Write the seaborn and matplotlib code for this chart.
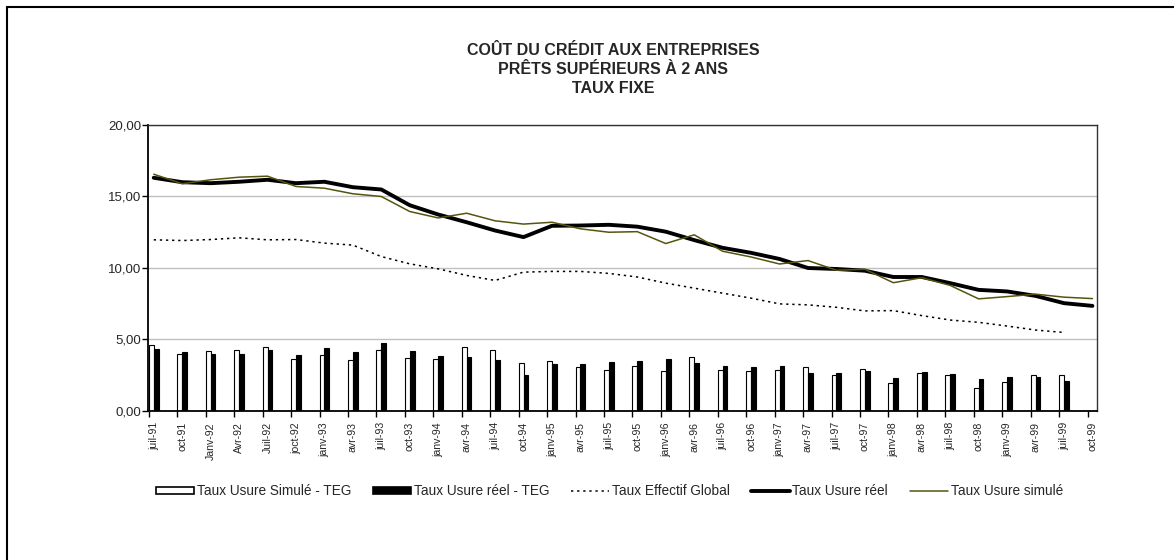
import numpy as np
import pandas as pd
import seaborn as sns
import matplotlib.pyplot as plt
from matplotlib.lines import Line2D
from matplotlib.patches import Patch, Rectangle
from matplotlib.ticker import FuncFormatter

# dates (quarterly)
dates = ["juil-91", "oct-91", "Janv-92", "Avr-92", "Juil-92", "joct-92", "janv-93", "avr-93",
         "juil-93", "oct-93", "janv-94", "avr-94", "juil-94", "oct-94", "janv-95", "avr-95",
         "juil-95", "oct-95", "janv-96", "avr-96", "juil-96", "oct-96", "janv-97", "avr-97",
         "juil-97", "oct-97", "janv-98", "avr-98", "juil-98", "oct-98", "janv-99", "avr-99",
         "juil-99", "oct-99"]

# bars: usure - TEG
ecart_simule = [4.58, 3.97, 4.16, 4.23, 4.49, 3.67, 3.90, 3.60, 4.25, 3.71, 3.64, 4.44,
                4.23, 3.39, 3.50, 3.06, 2.90, 3.18, 2.78, 3.76, 2.90, 2.80, 2.85, 3.11,
                2.50, 2.97, 1.96, 2.66, 2.50, 1.64, 2.03, 2.55, 2.50, np.nan]
ecart_reel = [4.32, 4.11, 4.00, 3.97, 4.25, 3.95, 4.37, 4.09, 4.77, 4.18, 3.83, 3.81,
              3.55, 2.50, 3.27, 3.27, 3.41, 3.53, 3.62, 3.39, 3.18, 3.11, 3.13, 2.64,
              2.64, 2.83, 2.34, 2.71, 2.57, 2.27, 2.36, 2.41, 2.10, np.nan]

# lines
teg = [11.97, 11.92, 11.99, 12.11, 11.97, 11.99, 11.74, 11.60, 10.80, 10.29, 9.94, 9.48,
       9.13, 9.71, 9.76, 9.76, 9.62, 9.37, 8.94, 8.59, 8.24, 7.89, 7.49, 7.42,
       7.25, 7.00, 7.02, 6.67, 6.36, 6.20, 5.94, 5.66, 5.49]
usure_reel = [16.31, 16.00, 15.93, 16.03, 16.17, 15.93, 16.03, 15.65, 15.49, 14.39, 13.74, 13.20,
              12.62, 12.16, 12.95, 12.97, 13.02, 12.89, 12.54, 11.95, 11.41, 11.06, 10.63, 10.00,
              9.93, 9.81, 9.37, 9.37, 8.94, 8.47, 8.36, 8.05, 7.54, 7.35]
usure_simule = [16.56, 15.89, 16.17, 16.35, 16.42, 15.70, 15.58, 15.19, 15.00, 13.95, 13.50, 13.83,
                13.30, 13.07, 13.20, 12.74, 12.50, 12.54, 11.71, 12.32, 11.17, 10.77, 10.28, 10.52,
                9.84, 9.91, 8.97, 9.32, 8.78, 7.84, 8.00, 8.17, 7.96, 7.86]

lab_sim = "Taux Usure Simulé - TEG"
lab_reel = "Taux Usure réel - TEG"

bars = pd.DataFrame({
    "date": dates * 2,
    "serie": [lab_sim] * len(dates) + [lab_reel] * len(dates),
    "val": ecart_simule + ecart_reel,
})

sns.set_style("white")
plt.rcParams["font.family"] = ["Liberation Sans", "DejaVu Sans"]

fig = plt.figure(figsize=(11.74, 5.6), dpi=100)
ax = fig.add_axes([0.1261, 0.2661, 0.8083, 0.5107])

sns.barplot(data=bars, x="date", y="val", hue="serie", order=dates,
            hue_order=[lab_sim, lab_reel],
            palette={lab_sim: "white", lab_reel: "black"},
            edgecolor="black", linewidth=0.8, width=0.34, legend=False, ax=ax)

x = np.arange(len(dates))
sns.lineplot(x=x[:len(teg)], y=teg, color="black", lw=1.1, ax=ax)
ax.lines[-1].set_linestyle((0, (1.5, 2.5)))
sns.lineplot(x=x, y=usure_reel, color="black", lw=2.8, ax=ax)
sns.lineplot(x=x, y=usure_simule, color="#55550f", lw=1.1, ax=ax)

ax.set_xlim(-0.2, 33.16)
ax.set_ylim(0, 20)
ax.set_yticks([0, 5, 10, 15, 20])
ax.yaxis.set_major_formatter(FuncFormatter(lambda v, p: f"{v:.2f}".replace(".", ",")))
ax.set_xticks(x - 0.17, [""] * len(x))
ax.set_xticks(x, dates, minor=True)
ax.tick_params(axis="x", which="major", direction="out", length=4, width=1, color="black", bottom=True)
ax.tick_params(axis="x", which="minor", length=0, labelsize=7.6, labelrotation=90, pad=8)
ax.tick_params(axis="y", direction="out", length=4, width=1, color="black", left=True,
               labelsize=9.5, pad=1)
ax.set_xlabel("")
ax.set_ylabel("")

ax.grid(axis="y", color="#c0c0c0", lw=1)
ax.set_axisbelow(True)
for side in ["left", "bottom"]:
    ax.spines[side].set_color("black")
    ax.spines[side].set_linewidth(1.3)
for side in ["top", "right"]:
    ax.spines[side].set_color("#333333")
    ax.spines[side].set_linewidth(1.0)

fig.text(0.522, 0.876, "COÛT DU CRÉDIT AUX ENTREPRISES\nPRÊTS SUPÉRIEURS À 2 ANS\nTAUX FIXE",
         ha="center", va="center", fontsize=11.5, fontweight="bold", linespacing=1.3)

handles = [
    Patch(facecolor="white", edgecolor="black", lw=1.2, label=lab_sim),
    Patch(facecolor="black", edgecolor="black", lw=1.2, label=lab_reel),
    Line2D([], [], color="black", lw=1.1, ls=(0, (1.5, 2.5)), label="Taux Effectif Global"),
    Line2D([], [], color="black", lw=2.8, label="Taux Usure réel"),
    Line2D([], [], color="#55550f", lw=1.1, label="Taux Usure simulé"),
]
fig.legend(handles=handles, loc="center", bbox_to_anchor=(0.519, 0.123), ncol=5,
           frameon=False, prop={"size": 9.8},
           handlelength=2.8, handleheight=0.45, handletextpad=0.2, columnspacing=1.6)

fig.add_artist(Rectangle((7 / 1174, -0.2), 1.5, 1.2 - 7 / 560, transform=fig.transFigure,
                         facecolor="none", edgecolor="black", lw=1.5))

fig.savefig("out.png", dpi=100)
